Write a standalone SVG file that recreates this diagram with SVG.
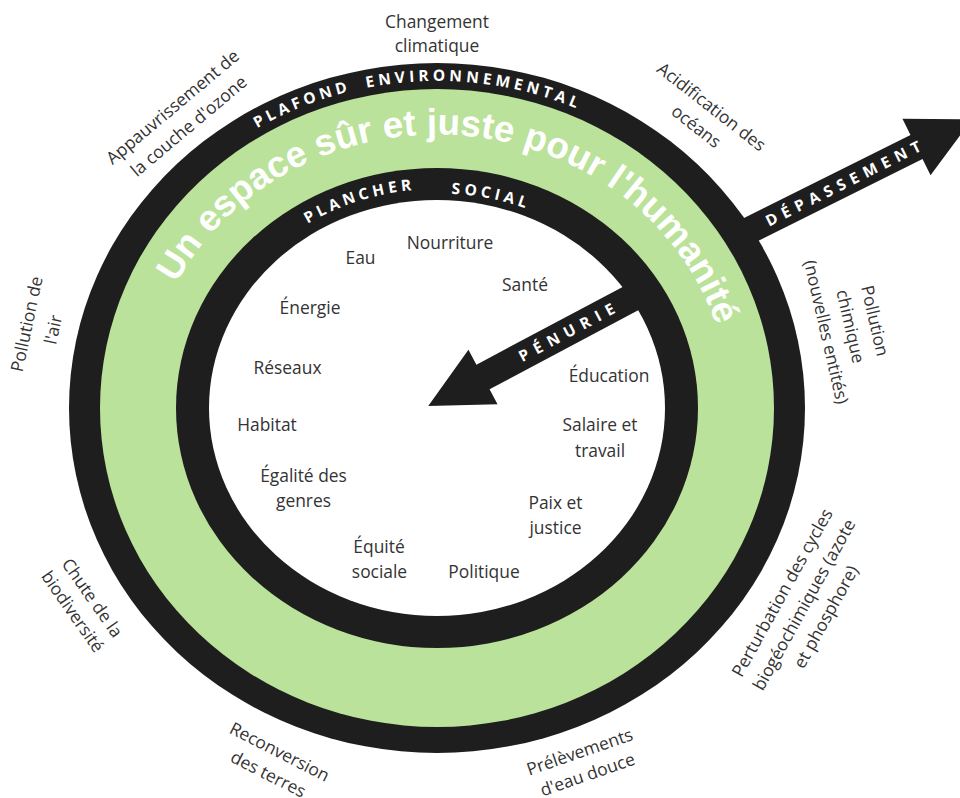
<svg xmlns="http://www.w3.org/2000/svg" width="960" height="798" viewBox="0 0 960 798">
<style>
.lbl{font-family:"Open Sans","Liberation Sans",sans-serif;font-size:17.4px;fill:#333;text-anchor:middle}
.ring{font-family:"Open Sans","Liberation Sans",sans-serif;font-weight:700;font-size:15.5px;fill:#fff;letter-spacing:4px}
.arr{font-family:"Open Sans","Liberation Sans",sans-serif;font-weight:700;font-size:15.5px;fill:#fff;text-anchor:middle}
.title{font-family:"Liberation Sans",Arial,sans-serif;font-weight:700;font-size:36.8px;fill:#fff}
.blk{fill:#1e1e1e}
</style>
<defs>
<path id="pPlafond" d="M91.7,371.5 A347.5,327 0 0 1 643.2,144.8"/>
<path id="pEnv" d="M157.6,213.5 A347.5,327 0 0 1 755.7,277.6"/>
<path id="pPlancher" d="M201.1,370 A239.5,219 0 0 1 590.9,240.2"/>
<path id="pSocial" d="M264.9,262.2 A239.5,219 0 0 1 668.4,349.2"/>
<path id="pTitle" d="M148.3,361.4 A293,273.5 0 0 1 730,407"/>
</defs>
<rect width="960" height="798" fill="#fff"/>
<g id="doughnut">
<ellipse class="blk" cx="437" cy="408" rx="368" ry="345"/>
<ellipse cx="437" cy="408" rx="337" ry="319" fill="#bbe29a"/>
<ellipse class="blk" cx="437" cy="408" rx="261" ry="240"/>
<ellipse cx="437" cy="408" rx="228" ry="208" fill="#fff"/>
</g>
<g id="connectors">
<g id="depassement" transform="translate(916.5,147) rotate(-26.5)">
<polygon class="blk" points="-205,-13.5 0,-13.5 0,-31.5 62,0 0,31.5 0,13.5 -205,13.5"/>
<text class="arr" x="-79" y="5.5" letter-spacing="6">DÉPASSEMENT</text>
</g>
<g id="penurie" transform="translate(483,377) rotate(-28)">
<polygon class="blk" points="180,-14 0,-14 0,-31 -62,0 0,31 0,14 180,14"/>
<text class="arr" x="98" y="5.5" letter-spacing="6.6">PÉNURIE</text>
</g>
</g>
<g id="ring-labels">
<text class="ring" text-anchor="middle"><textPath href="#pPlafond" startOffset="50%">PLAFOND</textPath></text>
<text class="ring" text-anchor="middle"><textPath href="#pEnv" startOffset="50%">ENVIRONNEMENTAL</textPath></text>
<text class="ring" text-anchor="middle"><textPath href="#pPlancher" startOffset="50%">PLANCHER</textPath></text>
<text class="ring" text-anchor="middle"><textPath href="#pSocial" startOffset="50%">SOCIAL</textPath></text>
</g>
<g id="title">
<text class="title" text-anchor="middle"><textPath href="#pTitle" startOffset="50%">Un espace sûr et juste pour l'humanité</textPath></text>
</g>
<g id="social-foundation">
<text class="lbl" x="360.5" y="264">Eau</text>
<text class="lbl" x="450" y="249">Nourriture</text>
<text class="lbl" x="525" y="291">Santé</text>
<text class="lbl" x="310" y="314">Énergie</text>
<text class="lbl" x="287.5" y="374">Réseaux</text>
<text class="lbl" x="609" y="382">Éducation</text>
<text class="lbl" x="267" y="431">Habitat</text>
<text class="lbl" x="600" y="431">Salaire et</text>
<text class="lbl" x="600" y="457">travail</text>
<text class="lbl" x="303.5" y="482">Égalité des</text>
<text class="lbl" x="303.5" y="507">genres</text>
<text class="lbl" x="555.5" y="509">Paix et</text>
<text class="lbl" x="555.5" y="534">justice</text>
<text class="lbl" x="379" y="553">Équité</text>
<text class="lbl" x="379.5" y="578">sociale</text>
<text class="lbl" x="484" y="578">Politique</text>
</g>
<g id="ecological-ceiling">
<g id="climat"><text class="lbl" x="437" y="28">Changement</text><text class="lbl" x="437" y="52">climatique</text></g>
<g id="ozone" transform="translate(181,117) rotate(-40)"><text class="lbl" x="0" y="-7">Appauvrissement de</text><text class="lbl" x="0" y="18">la couche d'ozone</text></g>
<g id="acidification" transform="translate(703.5,117) rotate(38)"><text class="lbl" x="0" y="-7">Acidification des</text><text class="lbl" x="0" y="18">océans</text></g>
<g id="air" transform="translate(40.5,327) rotate(-78)"><text class="lbl" x="0" y="-8">Pollution de</text><text class="lbl" x="0" y="19">l'air</text></g>
<g id="biodiversite" transform="translate(82,605) rotate(55)"><text class="lbl" x="0" y="-6.5">Chute de la</text><text class="lbl" x="0" y="17.5">biodiversité</text></g>
<g id="terres" transform="translate(273.7,763.5) rotate(27)"><text class="lbl" x="0" y="-7">Reconversion</text><text class="lbl" x="0" y="18">des terres</text></g>
<g id="eau-douce" transform="translate(583.75,763.75) rotate(-19)"><text class="lbl" x="0" y="-6.5">Prélèvements</text><text class="lbl" x="0" y="17.5">d'eau douce</text></g>
<g id="cycles" transform="translate(804.5,605) rotate(-61)"><text class="lbl" x="0" y="-19.5">Perturbation des cycles</text><text class="lbl" x="0" y="5.5">biogéochimiques (azote</text><text class="lbl" x="0" y="30.5">et phosphore)</text></g>
<g id="chimique" transform="translate(850,326.5) rotate(77)"><text class="lbl" x="0" y="-19.5">Pollution</text><text class="lbl" x="0" y="5.5">chimique</text><text class="lbl" x="0" y="30.5">(nouvelles entités)</text></g>
</g>
</svg>
